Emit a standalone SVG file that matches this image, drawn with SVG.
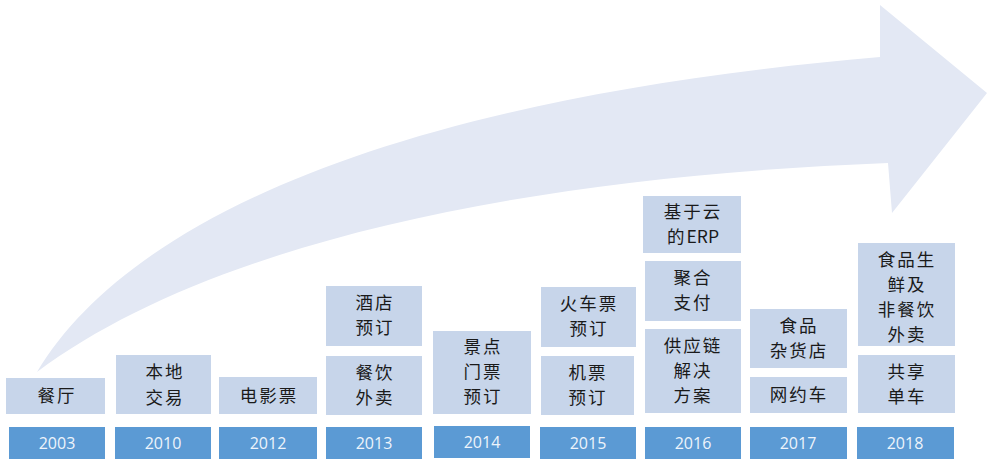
<svg xmlns="http://www.w3.org/2000/svg" width="997" height="467" viewBox="0 0 997 467">
<style>
.box{fill:#c7d5ea;}
.yr{fill:#5b9ad4;}
.t{font-family:"Noto Sans CJK SC","Noto Sans",sans-serif;font-size:17.5px;fill:#1a1a1a;text-anchor:middle;letter-spacing:2px;}
.y{font-family:"Open Sans","Liberation Sans",sans-serif;font-size:16px;fill:#eef4fb;text-anchor:middle;}
</style>
<rect width="997" height="467" fill="#ffffff"/>
<g id="arrow">
<path d="M37,372 C125,225 380,100 880,57 L880,5 L987,93 L892,213 L888,163 C500,178 200,250 37,372 Z" fill="#e3e8f4"/>
</g>
<g id="n2003">
<rect class="box" x="6" y="378" width="99" height="36"/>
<text class="t" x="57" y="402">餐厅</text>
<rect class="yr" x="9" y="427" width="96" height="32"/>
<text class="y" x="57" y="449">2003</text>
</g>
<g id="n2010">
<rect class="box" x="116" y="355" width="95" height="59"/>
<text class="t" x="165" y="378">本地</text>
<text class="t" x="165" y="404">交易</text>
<rect class="yr" x="115" y="427" width="96" height="32"/>
<text class="y" x="163" y="449">2010</text>
</g>
<g id="n2012">
<rect class="box" x="219" y="377" width="98" height="37"/>
<text class="t" x="269" y="402">电影票</text>
<rect class="yr" x="219" y="427" width="98" height="32"/>
<text class="y" x="268" y="449">2012</text>
</g>
<g id="n2013">
<rect class="box" x="326" y="286" width="96" height="60"/>
<text class="t" x="375" y="309">酒店</text>
<text class="t" x="375" y="334">预订</text>
<rect class="box" x="326" y="356" width="96" height="59"/>
<text class="t" x="375" y="379">餐饮</text>
<text class="t" x="375" y="404">外卖</text>
<rect class="yr" x="326" y="427" width="96" height="32"/>
<text class="y" x="374" y="449">2013</text>
</g>
<g id="n2014">
<rect class="box" x="433" y="331" width="98" height="83"/>
<text class="t" x="483" y="353">景点</text>
<text class="t" x="483" y="378">门票</text>
<text class="t" x="483" y="403">预订</text>
<rect class="yr" x="434" y="426" width="96" height="32"/>
<text class="y" x="482" y="448">2014</text>
</g>
<g id="n2015">
<rect class="box" x="541" y="287" width="95" height="60"/>
<text class="t" x="589" y="310">火车票</text>
<text class="t" x="589" y="335">预订</text>
<rect class="box" x="541" y="356" width="93" height="59"/>
<text class="t" x="588" y="379">机票</text>
<text class="t" x="588" y="404">预订</text>
<rect class="yr" x="540" y="427" width="96" height="32"/>
<text class="y" x="588" y="449">2015</text>
</g>
<g id="n2016">
<rect class="box" x="643" y="196" width="98" height="57"/>
<text class="t" x="693" y="218">基于云</text>
<text class="t" x="693" y="243">的<tspan letter-spacing="0">ERP</tspan></text>
<rect class="box" x="645" y="261" width="96" height="60"/>
<text class="t" x="693" y="284">聚合</text>
<text class="t" x="693" y="309">支付</text>
<rect class="box" x="645" y="329" width="96" height="84"/>
<text class="t" x="693" y="352">供应链</text>
<text class="t" x="693" y="377">解决</text>
<text class="t" x="693" y="402">方案</text>
<rect class="yr" x="645" y="427" width="96" height="32"/>
<text class="y" x="693" y="449">2016</text>
</g>
<g id="n2017">
<rect class="box" x="750" y="309" width="97" height="59"/>
<text class="t" x="799" y="332">食品</text>
<text class="t" x="799" y="357">杂货店</text>
<rect class="box" x="750" y="377" width="97" height="36"/>
<text class="t" x="799" y="401">网约车</text>
<rect class="yr" x="750" y="427" width="97" height="32"/>
<text class="y" x="798" y="449">2017</text>
</g>
<g id="n2018">
<rect class="box" x="858" y="243" width="97" height="103"/>
<text class="t" x="907" y="266">食品生</text>
<text class="t" x="907" y="291">鲜及</text>
<text class="t" x="907" y="316">非餐饮</text>
<text class="t" x="907" y="341">外卖</text>
<rect class="box" x="858" y="355" width="97" height="58"/>
<text class="t" x="907" y="378">共享</text>
<text class="t" x="907" y="403">单车</text>
<rect class="yr" x="857" y="427" width="97" height="32"/>
<text class="y" x="905" y="449">2018</text>
</g>
<g id="connectors"></g>
</svg>
